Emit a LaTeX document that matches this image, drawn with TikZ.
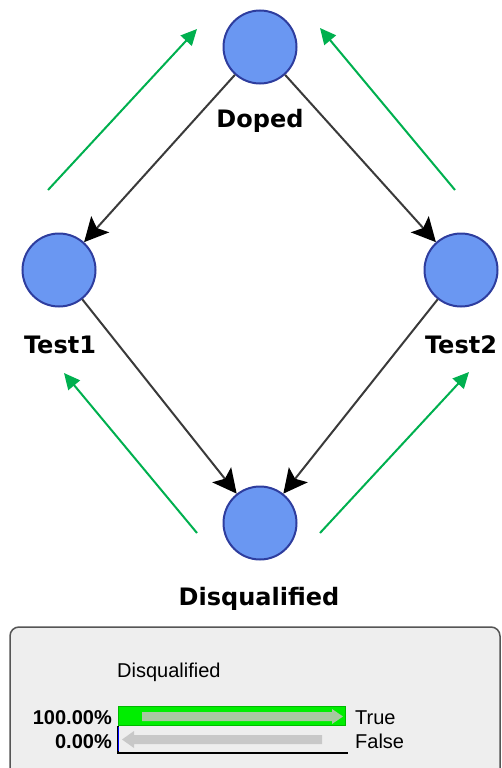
\documentclass[tikz,border=0pt]{standalone}
\usepackage{fontspec}
\newfontfamily\labfont{DejaVu Sans}
\newfontfamily\panfont{Liberation Sans}
\usetikzlibrary{arrows.meta}
\definecolor{nodefill}{HTML}{6A97F2}
\definecolor{nodeborder}{HTML}{2E3D9E}
\definecolor{edgegray}{HTML}{3A3A3A}
\definecolor{flowgreen}{HTML}{00B04F}
\definecolor{panelbg}{HTML}{EEEEEE}
\definecolor{panelborder}{HTML}{555555}
\definecolor{bargreen}{HTML}{00EE00}
\definecolor{bargreenedge}{HTML}{00B800}
\definecolor{truearrow}{HTML}{A8C8A0}
\definecolor{falsearrow}{HTML}{C8C8C8}
\tikzset{
  state/.style={circle, draw=nodeborder, line width=2pt, fill=nodefill, minimum size=73pt, inner sep=0pt},
  statelabel/.style={font=\labfont\bfseries\fontsize{24}{28}\selectfont, anchor=base, inner sep=0pt},
  edge/.style={draw=edgegray, line width=2pt, -{Stealth[length=24pt,width=24pt,inset=5pt,color=black]}},
  flow/.style={draw=flowgreen, line width=2pt, -{Triangle[length=16pt,width=15pt]}},
  pantext/.style={font=\panfont\fontsize{20}{24}\selectfont, inner sep=0pt},
  panbold/.style={font=\panfont\bfseries\fontsize{20}{24}\selectfont, inner sep=0pt, anchor=base east}
}
\begin{document}
\begin{tikzpicture}[x=1pt,y=-1pt]
\useasboundingbox (0,0) rectangle (502,768);
% nodes
\node[state] (doped) at (260,47) {};
\node[state] (test1) at (59,270) {};
\node[state] (test2) at (461,270) {};
\node[state] (disq) at (260,523) {};
\node[statelabel] (ldoped) at (260,127) {Doped};
\node[statelabel] (ltest1) at (60,353) {Test1};
\node[statelabel] (ltest2) at (461,353) {Test2};
\node[statelabel] (ldisq) at (259,605) {Disqualified};
% edges
\draw[edge] (doped) -- (test1);
\draw[edge] (doped) -- (test2);
\draw[edge] (test1) -- (disq);
\draw[edge] (test2) -- (disq);
% green flow arrows
\coordinate (g1a) at (48,190); \coordinate (g1b) at (197,29);
\coordinate (g2a) at (455,190); \coordinate (g2b) at (320,28);
\coordinate (g3a) at (197,533); \coordinate (g3b) at (64,373);
\coordinate (g4a) at (320,533); \coordinate (g4b) at (469,372);
\draw[flow] (g1a) -- (g1b);
\draw[flow] (g2a) -- (g2b);
\draw[flow] (g3a) -- (g3b);
\draw[flow] (g4a) -- (g4b);
% panel
\draw[fill=panelbg, draw=panelborder, line width=1.5pt, rounded corners=9pt] (10,627) rectangle (500,790);
\node[pantext, anchor=base west] (ptitle) at (117,677) {Disqualified};
% true bar
\fill[bargreen, draw=bargreenedge, line width=1pt] (118,706) rectangle (345,725);
\fill[truearrow] (142,712) -- (332,712) -- (332,709) -- (343,716.5) -- (332,724) -- (332,721) -- (142,721) -- cycle;
% false bar
\fill[falsearrow] (322,735) -- (134,735) -- (134,731) -- (122,739.5) -- (134,748) -- (134,744) -- (322,744) -- cycle;
\draw[black, line width=1.2pt] (118,726) -- (118,753) -- (348,753);
\draw[blue, line width=1pt] (118.5,727) -- (118.5,751);
\node[panbold] (ptrue) at (112,724) {100.00\%};
\node[panbold] (pfalse) at (112,748) {0.00\%};
\node[pantext, anchor=base west] (ltrue) at (355,724) {True};
\node[pantext, anchor=base west] (lfalse) at (355,748) {False};
\end{tikzpicture}
\end{document}
